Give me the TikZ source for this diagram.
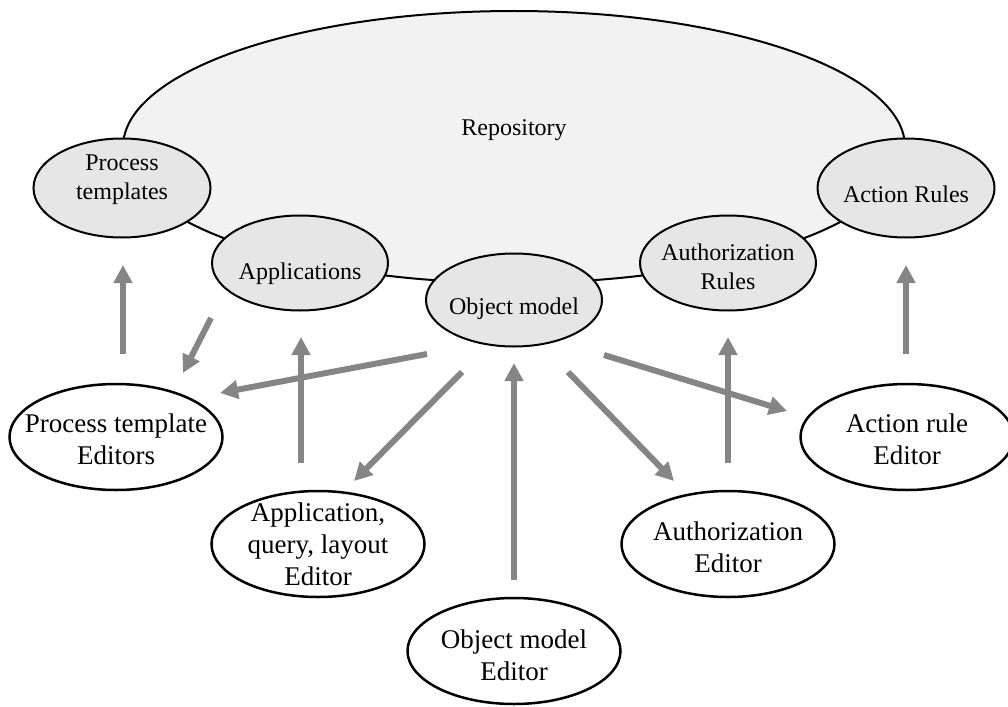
\documentclass[tikz,border=0pt]{standalone}
\usepackage{fontspec}
\setmainfont{Liberation Serif}
\usetikzlibrary{shapes.geometric,arrows.meta}
\definecolor{repofill}{HTML}{F2F2F2}
\definecolor{partfill}{HTML}{E6E6E6}
\definecolor{arrowgray}{HTML}{858585}
\begin{document}
\begin{tikzpicture}[x=1pt,y=-1pt,
  repo/.style={ellipse, draw, line width=2pt, fill=repofill, inner sep=0pt},
  part/.style={ellipse, draw, line width=2pt, fill=partfill, inner sep=0pt, minimum width=176pt, minimum height=95pt},
  editor/.style={ellipse, draw, line width=2.5pt, fill=white, inner sep=0pt, minimum width=213pt, minimum height=106pt},
  ptext/.style={font=\fontsize{24}{29}\selectfont, align=center},
  etext/.style={font=\fontsize{27}{32}\selectfont, align=center},
  arr/.style={color=arrowgray, line width=6pt, -{Triangle[length=18pt,width=18pt]}}
]
\useasboundingbox (0,0) rectangle (1008,706);

% repository
\node[repo, minimum width=782pt, minimum height=272pt,
  label={[ptext,yshift=17pt]center:Repository}] (repo) at (514,147) {};

% parts of the repository
\node[part, minimum width=177pt, minimum height=99pt,
  label={[ptext,yshift=8pt]center:{Process\\templates}}] (pt) at (122,188) {};
\node[part, label={[ptext,yshift=-11pt]center:Applications}] (app) at (300,263) {};
\node[part, minimum height=93pt, label={[ptext,yshift=-9pt]center:Object model}] (om) at (514,300) {};
\node[part, label={[ptext,yshift=-4pt]center:{Authorization\\Rules}}] (ar) at (728,263) {};
\node[part, minimum width=177pt, minimum height=99pt,
  label={[ptext,yshift=-6pt]center:Action Rules}] (acr) at (906,188) {};

% editors
\node[editor, label={[etext,yshift=-2pt]center:{Process template\\Editors}}] (pte) at (116,437) {};
\node[editor, label={[etext,yshift=0pt]center:{Application,\\query, layout\\Editor}}] (ape) at (318,544) {};
\node[editor, label={[etext,yshift=-4pt]center:{Object model\\Editor}}] (ome) at (514,651) {};
\node[editor, label={[etext,yshift=-3pt]center:{Authorization\\Editor}}] (aue) at (728,544) {};
\node[editor, label={[etext,yshift=-2pt]center:{Action rule\\Editor}}] (are) at (907,437) {};

% arrow ends
\coordinate (s1) at (123,354); \coordinate (e1) at (123,265);
\coordinate (s2) at (211,318); \coordinate (e2) at (183,373);
\coordinate (s3) at (301,463); \coordinate (e3) at (301,337);
\coordinate (s4) at (427,354); \coordinate (e4) at (220,393);
\coordinate (s5) at (462,372); \coordinate (e5) at (354,481);
\coordinate (s6) at (514,580); \coordinate (e6) at (514,363);
\coordinate (s7) at (568,372); \coordinate (e7) at (674,481);
\coordinate (s8) at (604,355); \coordinate (e8) at (787,411);
\coordinate (s9) at (728,463); \coordinate (e9) at (728,337);
\coordinate (s10) at (906,354); \coordinate (e10) at (906,265);

\foreach \i in {1,...,10} { \draw[arr] (s\i) -- (e\i); }
\end{tikzpicture}
\end{document}
